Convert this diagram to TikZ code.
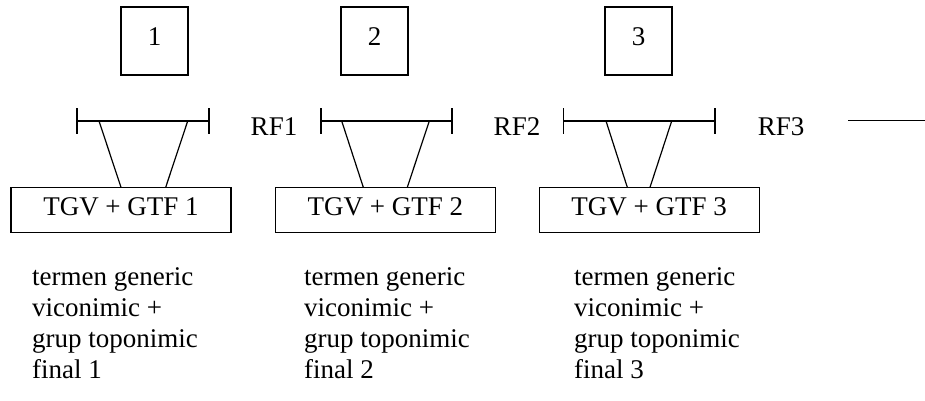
\documentclass[tikz,border=0pt]{standalone}
\usepackage{fontspec}
\setmainfont{Liberation Serif}
\begin{document}
\begin{tikzpicture}[x=1pt,y=-1pt,
  every node/.style={font=\fontsize{27}{31}\selectfont},
  numbox/.style={draw,line width=1.2pt,inner sep=0pt,minimum width=67pt,minimum height=68pt,text height=20pt,text depth=12pt},
  tgvbox/.style={draw,line width=1.2pt,inner sep=0pt,minimum width=220pt,minimum height=45.5pt,text height=18pt,text depth=8pt},
  rflabel/.style={anchor=base,inner sep=0pt},
  desc/.style={anchor=base west,align=left,inner sep=0pt},
  conn/.style={line width=1.2pt},
  tick/.style={line width=1.2pt}
]
\useasboundingbox (0,0) rectangle (925,400);

% number boxes
\node[numbox] (n1) at (154.5,41) {1};
\node[numbox] (n2) at (374.5,41) {2};
\node[numbox] (n3) at (638.5,41) {3};

% TGV boxes
\node[tgvbox] (t1) at (121,210) {TGV + GTF 1};
\node[tgvbox] (t2) at (385.3,210) {TGV + GTF 2};
\node[tgvbox] (t3) at (649.2,210) {TGV + GTF 3};

% bars
\coordinate (b1l) at (77,121);  \coordinate (b1r) at (209,121);
\coordinate (b2l) at (321,121); \coordinate (b2r) at (452,121);
\coordinate (b3l) at (563.5,121); \coordinate (b3r) at (715,121);
\foreach \b in {1,2,3}{
  \draw[conn] (b\b l) -- (b\b r);
  \draw[tick] ([yshift=13pt]b\b l) -- ([yshift=-13pt]b\b l);
  \draw[tick] ([yshift=13pt]b\b r) -- ([yshift=-13pt]b\b r);
}

% trapezoid points
\coordinate (p1a) at (99,121);    \coordinate (p1b) at (187.7,121);
\coordinate (q1a) at (121,187.3); \coordinate (q1b) at (165.7,187.3);
\coordinate (p2a) at (341.7,121); \coordinate (p2b) at (429.3,121);
\coordinate (q2a) at (363.3,187.3); \coordinate (q2b) at (407.3,187.3);
\coordinate (p3a) at (606,121);   \coordinate (p3b) at (671.7,121);
\coordinate (q3a) at (627.3,187.3); \coordinate (q3b) at (650,187.3);
\foreach \i in {1,2,3}{
  \draw[conn] (p\i a) -- (q\i a);
  \draw[conn] (p\i b) -- (q\i b);
}

% RF labels
\node[rflabel] (rf1) at (274,135) {RF1};
\node[rflabel] (rf2) at (517,135) {RF2};
\node[rflabel] (rf3) at (781,135) {RF3};

% trailing line
\coordinate (l3a) at (848,120.5);
\coordinate (l3b) at (925,120.5);
\draw[conn] (l3a) -- (l3b);

% descriptions (base anchor = baseline of last line)
\node[desc] (d1) at (32,378) {termen generic\\viconimic +\\grup toponimic\\final 1};
\node[desc] (d2) at (304,378) {termen generic\\viconimic +\\grup toponimic\\final 2};
\node[desc] (d3) at (574,378) {termen generic\\viconimic +\\grup toponimic\\final 3};
\end{tikzpicture}
\end{document}
